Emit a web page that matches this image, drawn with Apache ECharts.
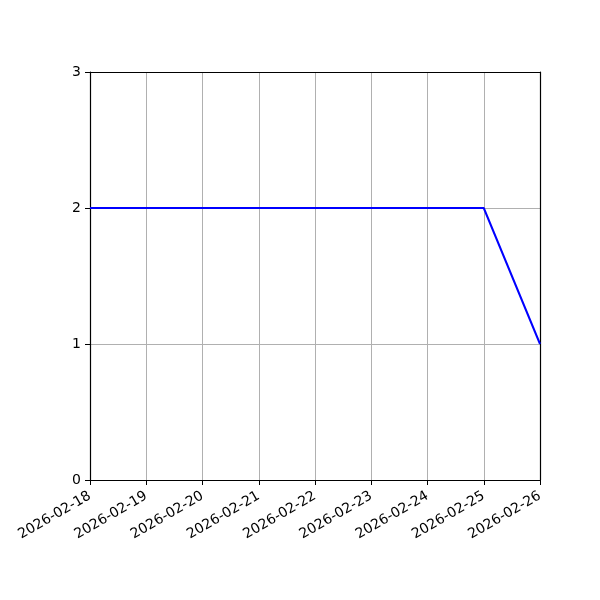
<!DOCTYPE html>
<html lang="en">
<head>
    <meta charset="utf-8"/>
    <title>Chart</title>
    <script src="https://cdn.jsdelivr.net/npm/echarts@6/dist/echarts.min.js"></script>
    <style>
        body { margin: 0; background: #fff; }
        #chart { width: 600px; height: 600px; }
    </style>
</head>
<body>
<div id="chart"></div>
<script type="text/javascript">
  // data
  var dates = ['2026-02-18', '2026-02-19', '2026-02-20', '2026-02-21', '2026-02-22',
    '2026-02-23', '2026-02-24', '2026-02-25', '2026-02-26'];
  var values = [2, 2, 2, 2, 2, 2, 2, 2, 1];
  var yTicks = [0, 1, 2, 3];

  var chart = echarts.init(document.getElementById('chart'));
  var font = 'DejaVu Sans';

  // plain frame axes for the top and right spines
  var frameX = {
    type: 'category', data: dates, boundaryGap: false, position: 'top', z: 10,
    axisLine: { onZero: false, lineStyle: { color: '#000', width: 1.2 } },
    axisTick: { show: false }, axisLabel: { show: false }, splitLine: { show: false }
  };
  var frameY = {
    type: 'value', position: 'right', z: 10, min: yTicks[0], max: yTicks[yTicks.length - 1], interval: 1,
    axisLine: { show: true, onZero: false, lineStyle: { color: '#000', width: 1.2 } },
    axisTick: { show: false }, axisLabel: { show: false }, splitLine: { show: false }
  };

  chart.setOption({
    animation: false,
    grid: { left: 90, right: 60, top: 72, bottom: 120 },
    xAxis: [{
      type: 'category',
      data: dates,
      boundaryGap: false,
      z: 10,
      axisLine: { onZero: false, lineStyle: { color: '#000', width: 1.2 } },
      axisTick: { show: true, length: 5, lineStyle: { color: '#000' }, alignWithLabel: true },
      axisLabel: {
        rotate: 30, color: '#000', fontFamily: font, fontSize: 14, margin: 15, interval: 0
      },
      splitLine: { show: true, lineStyle: { color: '#b0b0b0', width: 1 } }
    }, frameX],
    yAxis: [{
      type: 'value',
      min: yTicks[0],
      max: yTicks[yTicks.length - 1],
      interval: 1,
      z: 10,
      axisLine: { show: true, onZero: false, lineStyle: { color: '#000', width: 1.2 } },
      axisTick: { show: true, length: 5, lineStyle: { color: '#000' } },
      axisLabel: { color: '#000', fontFamily: font, fontSize: 14, margin: 9 },
      splitLine: { show: true, lineStyle: { color: '#b0b0b0', width: 1 } }
    }, frameY],
    series: [{
      type: 'line',
      data: values,
      xAxisIndex: 0,
      yAxisIndex: 0,
      z: 20,
      showSymbol: false,
      lineStyle: { color: '#0000ff', width: 2 },
      itemStyle: { color: '#0000ff' }
    }]
  });
</script>
</body>
</html>
